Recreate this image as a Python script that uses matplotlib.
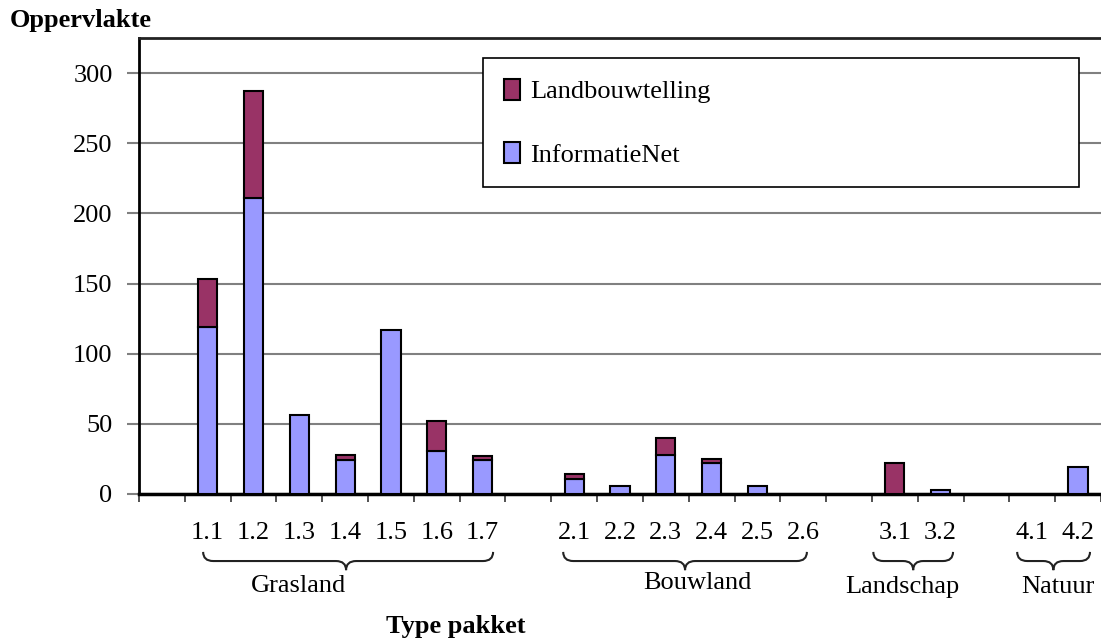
import matplotlib
matplotlib.use('Agg')
import matplotlib.pyplot as plt
import numpy as np
from matplotlib.path import Path
from matplotlib.patches import PathPatch, Patch
from matplotlib.transforms import blended_transform_factory

plt.rcParams['font.family'] = ['Liberation Serif', 'DejaVu Serif']

# categories, empty strings are the gaps between the groups
categories = ['', '1.1', '1.2', '1.3', '1.4', '1.5', '1.6', '1.7',
              '', '2.1', '2.2', '2.3', '2.4', '2.5', '2.6',
              '', '3.1', '3.2', '', '4.1', '4.2']
informatienet = [0, 119, 211, 56, 24, 117, 31, 24,
                 0, 11, 6, 28, 22, 6, 0,
                 0, 0, 2.5, 0, 0, 19.5]
landbouwtelling = [0, 34, 76, 0, 4, 0, 21, 3,
                   0, 3, 0, 12, 3, 0, 0,
                   0, 22, 0, 0, 0, 0]

groups = ['Grasland', 'Bouwland', 'Landschap', 'Natuur']

blue = '#9999FF'
maroon = '#993366'

fig = plt.figure(figsize=(11.01, 6.42), dpi=100)
ax = fig.add_axes([139 / 1101, 148 / 642, 962 / 1101, 456 / 642])

x = np.arange(len(categories))
b1 = ax.bar(x, informatienet, width=0.42, color=blue, edgecolor='black', linewidth=1.5, zorder=3)
b2 = ax.bar(x, landbouwtelling, width=0.42, bottom=informatienet, color=maroon,
            edgecolor='black', linewidth=1.5, zorder=3)
# no outline for empty segments
for bars, vals in ((b1, informatienet), (b2, landbouwtelling)):
    for r, v in zip(bars, vals):
        if v == 0:
            r.set_visible(False)

ax.set_xlim(-0.5, len(categories) - 0.5)
ax.set_ylim(0, 325)
ax.set_yticks(np.arange(0, 301, 50))
ax.yaxis.grid(True, color='#808080', linewidth=1.5, zorder=0)
ax.set_axisbelow(True)

ax.set_xticks(np.arange(-0.5, len(categories), 1))
ax.set_xticklabels([])
ax.set_xticks(x, minor=True)
ax.set_xticklabels(categories, minor=True)
ax.tick_params(axis='x', which='major', direction='out', length=6, width=1.2, color='#333333')
ax.tick_params(axis='x', which='minor', length=0, pad=20, labelsize=19)
ax.tick_params(axis='y', direction='out', length=9, width=1.5, color='#808080', pad=10, labelsize=19)

ax.spines['right'].set_visible(False)
ax.spines['top'].set_linewidth(2)
ax.spines['left'].set_linewidth(2)
ax.spines['bottom'].set_linewidth(2.5)
ax.spines['top'].set_color('#222222')

# braces under the groups
trans = blended_transform_factory(ax.transData, ax.transAxes)
brace_spans = [(0.90, 7.23, 4.02), (8.76, 14.08, 11.42), (15.53, 17.27, 16.4), (18.67, 20.26, 19.46)]
text_x = [2.99, 11.68, 16.16, 19.57]
text_y = [-0.202, -0.195, -0.204, -0.204]
yt, ym, yp = -0.127, -0.147, -0.167
r = 0.22
for (x0, x1, xm), g, tx, ty in zip(brace_spans, groups, text_x, text_y):
    verts = [(x0, yt), (x0, ym), (x0 + r, ym), (xm - r, ym),
             (xm, ym), (xm, yp), (xm, ym), (xm + r, ym),
             (x1 - r, ym), (x1, ym), (x1, yt)]
    codes = [Path.MOVETO, Path.CURVE3, Path.CURVE3, Path.LINETO,
             Path.CURVE3, Path.CURVE3, Path.CURVE3, Path.CURVE3,
             Path.LINETO, Path.CURVE3, Path.CURVE3]
    ax.add_patch(PathPatch(Path(verts, codes), transform=trans, fill=False,
                           edgecolor='#222222', linewidth=1.5, clip_on=False))
    ax.text(tx, ty, g, transform=trans, ha='center', va='center', fontsize=19)

fig.text(10 / 1101, 1 - 20 / 642, 'Oppervlakte', fontsize=19, fontweight='bold', ha='left', va='center')
fig.text(456 / 1101, 1 - 627 / 642, 'Type pakket', fontsize=19, fontweight='bold', ha='center', va='center')

handles = [Patch(facecolor=maroon, edgecolor='black', linewidth=1.5),
           Patch(facecolor=blue, edgecolor='black', linewidth=1.5)]
leg = ax.legend(handles, ['Landbouwtelling', 'InformatieNet'],
                loc='upper left', bbox_to_anchor=(483 / 1101, 1 - 58 / 642, 596 / 1101, 0.0),
                bbox_transform=fig.transFigure, mode='expand', fontsize=19,
                frameon=True, fancybox=False, framealpha=1, edgecolor='black',
                borderpad=0.78, labelspacing=1.47, handlelength=0.62, handleheight=0.85,
                handletextpad=0.4, borderaxespad=0)
leg.get_frame().set_linewidth(1.2)

plt.savefig('out.png', dpi=100)
